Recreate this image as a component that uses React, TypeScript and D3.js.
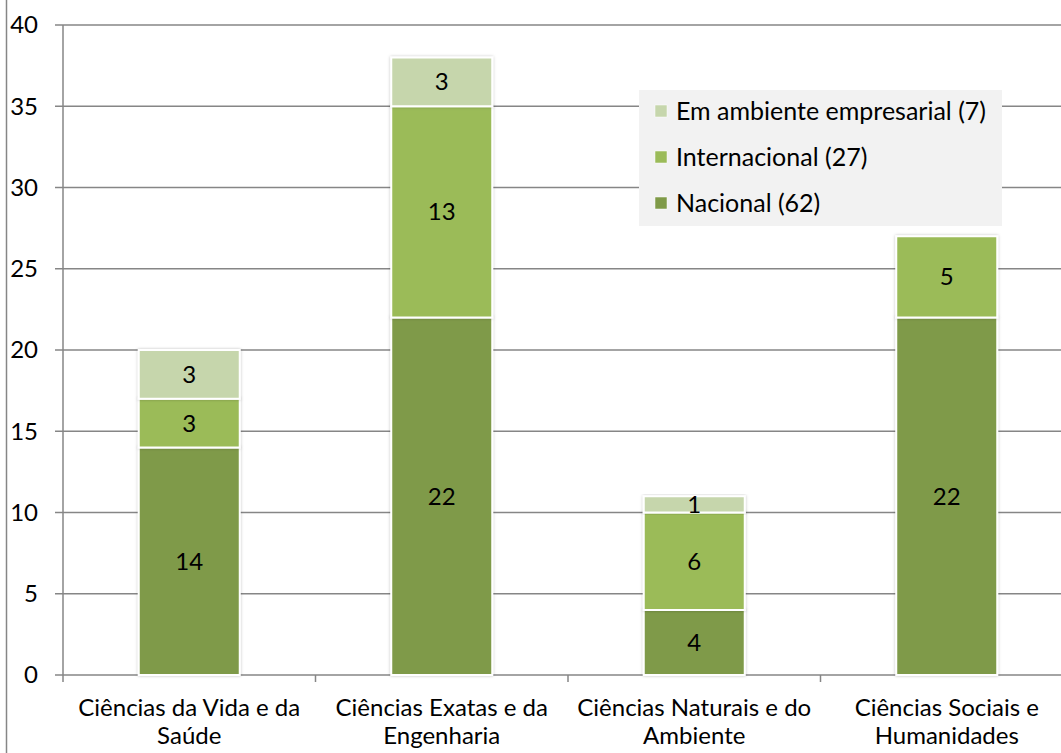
import { useEffect, useRef } from "react";
import * as d3 from "d3";

const categories = [
    "Ciências da Vida e da Saúde",
    "Ciências Exatas e da Engenharia",
    "Ciências Naturais e do Ambiente",
    "Ciências Sociais e Humanidades",
];
const categoryLines = [
    ["Ciências da Vida e da", "Saúde"],
    ["Ciências Exatas e da", "Engenharia"],
    ["Ciências Naturais e do", "Ambiente"],
    ["Ciências Sociais e", "Humanidades"],
];
const nacional = [14, 22, 4, 22];
const internacional = [3, 13, 6, 5];
const empresarial = [3, 3, 1, 0];
const seriesNames = ["Nacional (62)", "Internacional (27)", "Em ambiente empresarial (7)"];
const seriesColors = ["#7f9a48", "#9bbb59", "#c6d6ac"];
const yTicks = [0, 5, 10, 15, 20, 25, 30, 35, 40];

const W = 1061;
const H = 753;
const FONT = "Lato, 'Open Sans', sans-serif";
const FS = 24;

export default function App() {
    const svgRef = useRef<SVGSVGElement | null>(null);

    useEffect(() => {
        const svg = d3.select(svgRef.current!);
        svg.selectAll("*").remove();

        const left = 63, right = 1073, top = 25, bottom = 675;

        const x = d3.scaleBand<string>().domain(categories).range([left, right]).paddingInner(0.6).paddingOuter(0.3);
        const y = d3.scaleLinear().domain([0, 40]).range([bottom, top]);

        svg.append("rect").attr("width", W).attr("height", H).attr("fill", "#fff");

        // outer frame
        svg.append("line").attr("x1", 6.5).attr("x2", 6.5).attr("y1", 0).attr("y2", H)
            .attr("stroke", "#868686").attr("stroke-width", 1.5);

        // grid
        svg.append("g").selectAll("line").data(yTicks.filter((t) => t > 0)).join("line")
            .attr("x1", left - 8).attr("x2", W)
            .attr("y1", (d) => y(d)).attr("y2", (d) => y(d))
            .attr("stroke", "#868686").attr("stroke-width", 1.5);

        // axes
        svg.append("line").attr("x1", left).attr("x2", left).attr("y1", top).attr("y2", bottom + 7)
            .attr("stroke", "#868686").attr("stroke-width", 1.5);
        svg.append("line").attr("x1", left - 8).attr("x2", W).attr("y1", bottom).attr("y2", bottom)
            .attr("stroke", "#868686").attr("stroke-width", 1.5);

        svg.append("g").selectAll("text").data(yTicks).join("text")
            .attr("x", 38).attr("y", (d) => y(d)).attr("dy", "0.35em")
            .attr("text-anchor", "end").attr("font-family", FONT).attr("font-size", FS)
            .text((d) => d);

        // x ticks at band boundaries
        const step = x.step();
        svg.append("g").selectAll("line").data(d3.range(1, categories.length)).join("line")
            .attr("x1", (i) => left + i * step).attr("x2", (i) => left + i * step)
            .attr("y1", bottom).attr("y2", bottom + 7)
            .attr("stroke", "#868686").attr("stroke-width", 1.5);

        // category labels
        const labels = svg.append("g").selectAll("text").data(categories).join("text")
            .attr("text-anchor", "middle").attr("font-family", FONT).attr("font-size", FS);
        labels.each(function (_d, i) {
            const t = d3.select(this);
            categoryLines[i].forEach((ln, j) => {
                t.append("tspan").attr("x", x(categories[i])! + x.bandwidth() / 2)
                    .attr("y", 716 + j * 28).text(ln);
            });
        });

        // stacked bars
        const rows = categories.map((c, i) => ({ cat: c, s0: nacional[i], s1: internacional[i], s2: empresarial[i] }));
        const stack = d3.stack<any>().keys(["s0", "s1", "s2"])(rows);

        const defs = svg.append("defs");
        const f = defs.append("filter").attr("id", "sh").attr("x", "-10%").attr("y", "-10%").attr("width", "120%").attr("height", "120%");
        f.append("feDropShadow").attr("dx", 0).attr("dy", 0).attr("stdDeviation", 1.5).attr("flood-color", "#000").attr("flood-opacity", 0.25);

        stack.forEach((layer, si) => {
            const g = svg.append("g");
            layer.forEach((seg, ci) => {
                const v = seg[1] - seg[0];
                if (v <= 0) return;
                const bx = x(categories[ci])!;
                g.append("rect")
                    .attr("x", bx).attr("y", y(seg[1]))
                    .attr("width", x.bandwidth()).attr("height", y(seg[0]) - y(seg[1]))
                    .attr("fill", seriesColors[si]).attr("stroke", "#fff").attr("stroke-width", 2)
                    .attr("filter", "url(#sh)");
                g.append("text")
                    .attr("x", bx + x.bandwidth() / 2).attr("y", (y(seg[0]) + y(seg[1])) / 2).attr("dy", "0.35em")
                    .attr("text-anchor", "middle").attr("font-family", FONT).attr("font-size", FS)
                    .text(v);
            });
        });

        // legend
        const lg = svg.append("g");
        lg.append("rect").attr("x", 639).attr("y", 90).attr("width", 363).attr("height", 136).attr("fill", "#f2f2f2");
        const order = [2, 1, 0];
        order.forEach((si, k) => {
            const cy = 111 + k * 46;
            lg.append("rect").attr("x", 655).attr("y", cy - 6).attr("width", 12).attr("height", 12)
                .attr("fill", seriesColors[si]).attr("stroke", "#fff").attr("stroke-width", 0.5);
            lg.append("text").attr("x", 676).attr("y", cy).attr("dy", "0.35em")
                .attr("font-family", FONT).attr("font-size", 25).text(seriesNames[si]);
        });
    }, []);

    return (
        <svg ref={svgRef} width={W} height={H} style={{ position: "absolute", left: 0, top: 0, display: "block" }} />
    );
}
